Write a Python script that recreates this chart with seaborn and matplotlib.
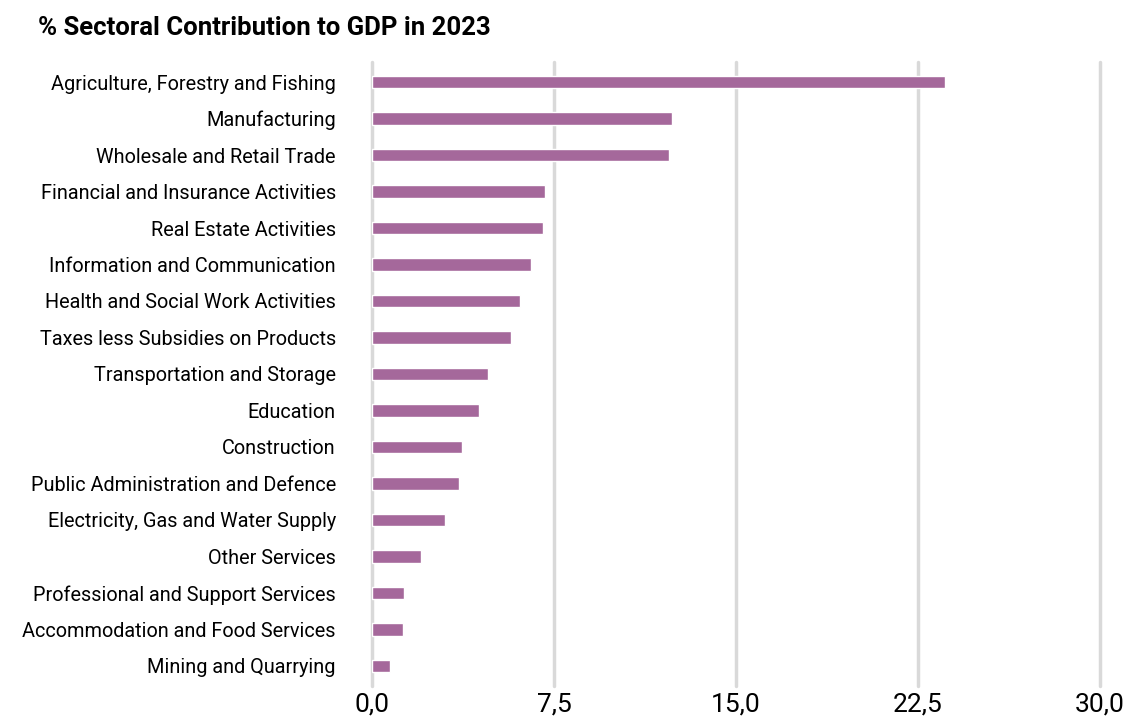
import matplotlib
matplotlib.use("Agg")
import matplotlib.pyplot as plt
import seaborn as sns
import pandas as pd
from matplotlib.ticker import FuncFormatter

sectors = [
    "Agriculture, Forestry and Fishing",
    "Manufacturing",
    "Wholesale and Retail Trade",
    "Financial and Insurance Activities",
    "Real Estate Activities",
    "Information and Communication",
    "Health and Social Work Activities",
    "Taxes less Subsidies on Products",
    "Transportation and Storage",
    "Education",
    "Construction",
    "Public Administration and Defence",
    "Electricity, Gas and Water Supply",
    "Other Services",
    "Professional and Support Services",
    "Accommodation and Food Services",
    "Mining and Quarrying",
]
shares = [23.6, 12.38, 12.23, 7.11, 7.04, 6.57, 6.09, 5.72, 4.77,
          4.39, 3.71, 3.58, 3.00, 2.02, 1.31, 1.29, 0.73]
x_ticks = [0, 7.5, 15, 22.5, 30]

df = pd.DataFrame({"sector": sectors, "share": shares})

sns.set_theme(style="white")
plt.rcParams["font.family"] = ["Roboto", "DejaVu Sans"]

fig = plt.figure(figsize=(11.23, 7.24), dpi=100)
ax = fig.add_axes([0.3313, 0.0525, 0.6482, 0.8619])

sns.barplot(data=df, x="share", y="sector", orient="h", color="#A5689B",
            saturation=1, width=0.35, ax=ax, zorder=3)

ax.set_xlim(0, 30)
ax.set_ylim(len(sectors) - 0.45, -0.55)
ax.set_xticks(x_ticks)
ax.xaxis.set_major_formatter(FuncFormatter(lambda v, p: f"{v:.1f}".replace(".", ",")))
ax.grid(axis="x", color="#D9D9D9", linewidth=2.5, zorder=0)
ax.grid(axis="y", visible=False)
for gl in ax.get_xgridlines():
    gl.set_clip_on(False)
for s in ax.spines.values():
    s.set_visible(False)
ax.tick_params(axis="both", length=0)
ax.tick_params(axis="x", pad=5, labelsize=19, labelcolor="black")
ax.tick_params(axis="y", pad=26, labelsize=14.3, labelcolor="black")
ax.set_xlabel("")
ax.set_ylabel("")

fig.text(0.034, 0.962, "% Sectoral Contribution to GDP in 2023",
         fontsize=18.5, fontweight="bold",
         ha="left", va="center", color="black")

fig.savefig("out.png", dpi=100, facecolor="white")
